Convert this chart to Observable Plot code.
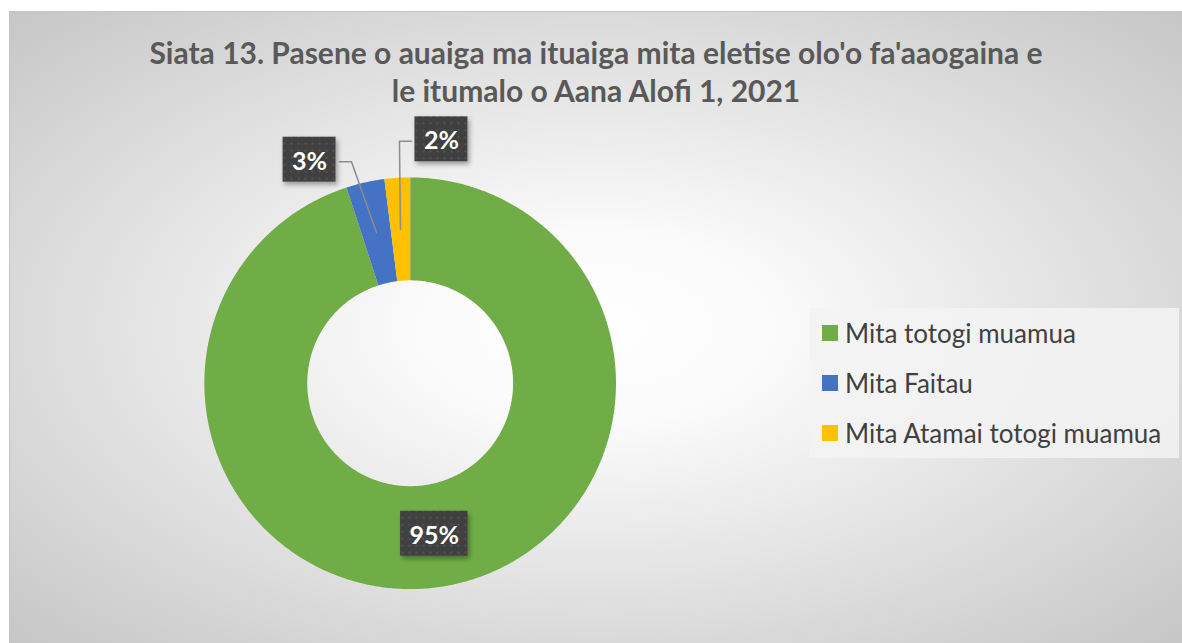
<!DOCTYPE html>
<html><head><meta charset="utf-8">
<script src="https://cdn.jsdelivr.net/npm/d3@7"></script>
<script src="https://cdn.jsdelivr.net/npm/@observablehq/plot@0.6"></script>
<style>
html,body{margin:0;padding:0;background:#fff;width:1182px;height:643px;overflow:hidden;font-family:Lato,"Open Sans",sans-serif}
#chart{position:absolute;left:9px;top:11px;width:1173px;height:632px;box-sizing:border-box;border-top:1px solid #c4c4c4;border-left:1px solid #c4c4c4;
 background:radial-gradient(ellipse farthest-corner at 50% 50%,#ffffff 0%,#fafafa 22%,#c6c6c6 100%)}
#title{position:absolute;left:0;top:21px;width:100%;text-align:center;font-weight:bold;color:#595959;font-size:30px;line-height:38px}
#plot{position:absolute;left:0;top:100px}
#legend{position:absolute;left:799px;top:296px;width:370px;height:150px;background:rgba(243,243,243,0.85);box-sizing:border-box;padding-top:0px}
.item{display:flex;align-items:center;height:50px;padding-left:13px;color:#404040;font-size:26px}
.sw{width:16px;height:16px;margin-right:7px;flex:none}
</style></head>
<body>
<div id="chart">
 <div id="title">Siata 13. Pasene o auaiga ma ituaiga mita eletise olo'o fa'aaogaina e<br>le itumalo o Aana Alofi 1, 2021</div>
 <div id="plot"></div>
 <div id="legend"></div>
</div>
<script>
const categories = ["Mita totogi muamua", "Mita Faitau", "Mita Atamai totogi muamua"];
const values = [95, 3, 2];
const labels = ["95%", "3%", "2%"];
const palette = ["#70AD47", "#4472C4", "#FFC000"];

// layout (pixels)
const W = 1173, H = 532, CX = 400, CY = 271, R = 206;
const innerRatio = 0.5, labelRadius = 0.75;
const labelOffsets = {"Mita Faitau": [-67, -71], "Mita Atamai totogi muamua": [41, -88]};

const total = d3.sum(values);
let acc = 0;
const slices = categories.map((c, i) => {
  const a0 = acc / total * 2 * Math.PI; acc += values[i];
  const a1 = acc / total * 2 * Math.PI;
  return {cat: c, a0, a1, label: labels[i]};
});
const pts = [];
for (const s of slices) {
  const n = Math.max(4, Math.ceil((s.a1 - s.a0) / 0.01));
  for (let k = 0; k <= n; k++) { const a = s.a0 + (s.a1 - s.a0) * k / n; pts.push({cat: s.cat, x: Math.sin(a), y: Math.cos(a)}); }
  for (let k = n; k >= 0; k--) { const a = s.a0 + (s.a1 - s.a0) * k / n; pts.push({cat: s.cat, x: innerRatio * Math.sin(a), y: innerRatio * Math.cos(a)}); }
}
const labelData = slices.map(s => {
  const m = (s.a0 + s.a1) / 2;
  const ax = labelRadius * Math.sin(m), ay = labelRadius * Math.cos(m);
  const off = labelOffsets[s.cat] || [0, 0];
  return {cat: s.cat, text: s.label, ax, ay, x: ax + off[0] / R, y: ay - off[1] / R, off};
});
const leaders = [];
for (const d of labelData) {
  if (!labelOffsets[d.cat]) continue;
  const side = d.off[0] < 0 ? 1 : -1;
  const edgeX = d.x + side * 30 / R, elbowX = d.x + side * 42 / R;
  leaders.push({cat: d.cat, x: d.ax, y: d.ay});
  leaders.push({cat: d.cat, x: elbowX, y: d.y});
  leaders.push({cat: d.cat, x: edgeX, y: d.y});
}

const plot = Plot.plot({
  width: W, height: H, margin: 0,
  x: {domain: [-CX / R, (W - CX) / R], axis: null},
  y: {domain: [-(H - CY) / R, CY / R], axis: null},
  color: {domain: categories, range: palette},
  style: {background: "transparent", overflow: "visible"},
  marks: [
    Plot.line(pts, {x: "x", y: "y", z: "cat", fill: "cat", stroke: "none"}),
    Plot.line(leaders, {x: "x", y: "y", z: "cat", stroke: "#8c8c8c", strokeWidth: 1.5, curve: "linear"}),
    Plot.text(labelData, {x: "x", y: "y", text: "text", fill: "white", fontSize: 25, fontWeight: "bold", fontFamily: "Lato, 'Open Sans', sans-serif", className: "lbl"})
  ]
});
document.getElementById("plot").appendChild(plot);

const svg = plot.tagName === "svg" ? plot : plot.querySelector("svg");
const ns = "http://www.w3.org/2000/svg";
const defs = document.createElementNS(ns, "defs");
defs.innerHTML = `<pattern id="dots" width="7" height="7" patternUnits="userSpaceOnUse"><rect width="7" height="7" fill="#404040"/><circle cx="3.5" cy="3.5" r="1.1" fill="#565656"/></pattern>
<filter id="sh" x="-20%" y="-20%" width="150%" height="150%"><feDropShadow dx="2" dy="3" stdDeviation="2.5" flood-color="#000" flood-opacity="0.35"/></filter>`;
svg.insertBefore(defs, svg.firstChild);
const g = svg.querySelector("g.lbl") || svg.querySelector(".lbl");
const texts = g.querySelectorAll("text");
const boxG = document.createElementNS(ns, "g");
g.parentNode.insertBefore(boxG, g);
texts.forEach(t => {
  const b = t.getBBox();
  const r = document.createElementNS(ns, "rect");
  const w = b.width + 18, h = 45;
  const x = b.x + b.width / 2 - w / 2, y = b.y + b.height / 2 - h / 2;
  const tr = t.getAttribute("transform");
  if (tr) r.setAttribute("transform", tr);
  r.setAttribute("x", x); r.setAttribute("y", y); r.setAttribute("width", w); r.setAttribute("height", h);
  r.setAttribute("fill", "url(#dots)"); r.setAttribute("filter", "url(#sh)");
  boxG.appendChild(r);
});

const lg = document.getElementById("legend");
categories.forEach((c, i) => {
  const it = document.createElement("div"); it.className = "item";
  const sw = document.createElement("div"); sw.className = "sw"; sw.style.background = palette[i];
  const tx = document.createElement("span"); tx.textContent = c;
  it.appendChild(sw); it.appendChild(tx); lg.appendChild(it);
});
</script>
</body></html>
